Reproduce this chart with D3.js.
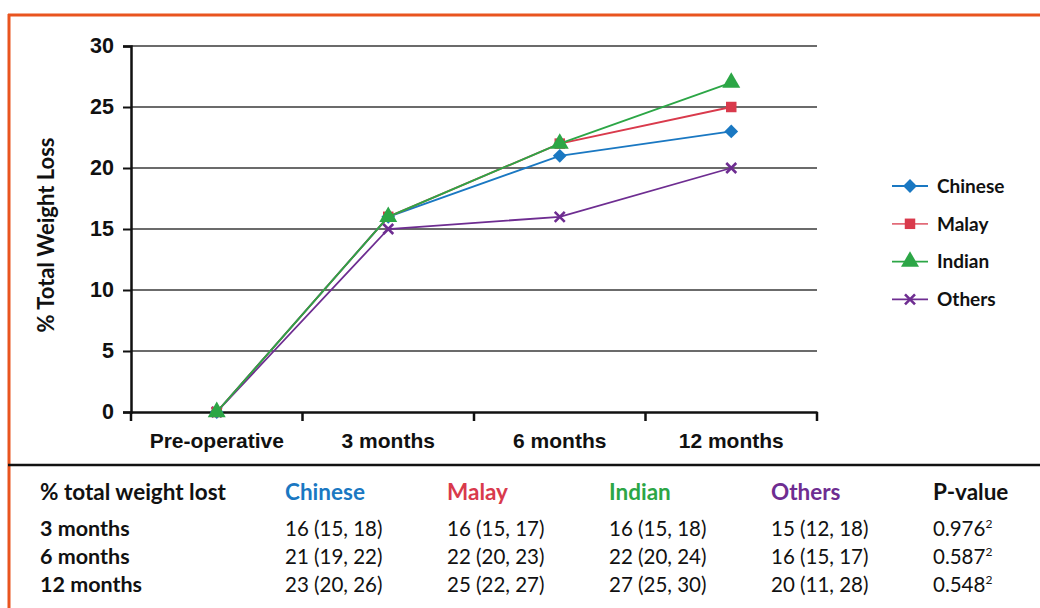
<!DOCTYPE html>
<html><head><meta charset="utf-8">
<script src="https://cdn.jsdelivr.net/npm/d3@7"></script>
<style>body{margin:0;background:#fff;}svg{display:block;font-family:Lato,"Open Sans",sans-serif;}</style>
</head><body><svg id="c" width="1040" height="608"></svg>
<script>
const categories = ["Pre-operative","3 months","6 months","12 months"];
const seriesNames = ["Chinese","Malay","Indian","Others"];
const chinese = [0,16,21,23];
const malay = [0,16,22,25];
const indian = [0,16,22,27];
const others = [0,15,16,20];
const yTicks = [0,5,10,15,20,25,30];
const tableHeader = ["% total weight lost","Chinese","Malay","Indian","Others","P-value"];
const tableRowLabels = ["3 months","6 months","12 months"];
const tableChinese = ["16 (15, 18)","21 (19, 22)","23 (20, 26)"];
const tableMalay = ["16 (15, 17)","22 (20, 23)","25 (22, 27)"];
const tableIndian = ["16 (15, 18)","22 (20, 24)","27 (25, 30)"];
const tableOthers = ["15 (12, 18)","16 (15, 17)","20 (11, 28)"];
const tablePValue = ["0.976","0.587","0.548"];
const pSup = ["2","2","2"];

const colors = {Chinese:"#1a78c2",Malay:"#d93a4c",Indian:"#2ca646",Others:"#6e2d91"};
const values = {Chinese:chinese,Malay:malay,Indian:indian,Others:others};
const symbols = {Chinese:d3.symbolSquare,Malay:d3.symbolSquare,Indian:d3.symbolTriangle,Others:d3.symbolCross};

const svg = d3.select("#c");
// frame
svg.append("line").attr("x1",8).attr("x2",1040).attr("y1",15).attr("y2",15).attr("stroke","#e9541f").attr("stroke-width",3);
svg.append("line").attr("x1",9).attr("x2",9).attr("y1",14).attr("y2",608).attr("stroke","#e9541f").attr("stroke-width",3);
svg.append("line").attr("x1",8).attr("x2",1040).attr("y1",465).attr("y2",465).attr("stroke","#111").attr("stroke-width",2.5);

const x = d3.scaleBand().domain(categories).range([131,817]);
const y = d3.scaleLinear().domain([0,30]).range([412,46]);

// gridlines
svg.append("g").selectAll("line").data(yTicks.filter(d=>d>0)).join("line")
  .attr("x1",131).attr("x2",817).attr("y1",d=>y(d)).attr("y2",d=>y(d))
  .attr("stroke","#3a3a3a").attr("stroke-width",1.6);

// y axis
const ya = svg.append("g").attr("transform","translate(131,0)")
  .call(d3.axisLeft(y).tickValues(yTicks).tickSize(8).tickPadding(9));
ya.select(".domain").attr("stroke","#111").attr("stroke-width",2.5);
ya.selectAll(".tick line").attr("stroke","#111").attr("stroke-width",2);
ya.selectAll("text").attr("font-size",21.5).attr("font-weight","bold").attr("fill","#111");

// x axis
const xa = svg.append("g").attr("transform","translate(0,412)")
  .call(d3.axisBottom(x).tickSize(0).tickPadding(21));
xa.select(".domain").attr("stroke","#111").attr("stroke-width",2.5);
xa.selectAll("text").attr("font-size",21).attr("font-weight","bold").attr("fill","#111");
const bounds = categories.map(c=>x(c)).concat([x.range()[1]]);
svg.append("g").selectAll("line").data(bounds).join("line")
  .attr("x1",d=>d).attr("x2",d=>d).attr("y1",412).attr("y2",421).attr("stroke","#111").attr("stroke-width",2.5);

svg.append("text").attr("transform","translate(54,235) rotate(-90)").attr("text-anchor","middle")
  .attr("font-size",22).attr("font-weight","bold").attr("fill","#111").text("% Total Weight Loss");

const cx = c=>x(c)+x.bandwidth()/2;
const line = d3.line().x((d,i)=>cx(categories[i])).y(d=>y(d));
const symSize = {Chinese:95,Malay:110,Indian:140,Others:80};
function drawSym(g,name,px,py){
  if(name==="Others"){
    const r=5;
    g.append("path").attr("d",`M${px-r},${py-r}L${px+r},${py+r}M${px-r},${py+r}L${px+r},${py-r}`)
      .attr("stroke",colors[name]).attr("stroke-width",2.6).attr("fill","none");
    return;
  }
  const s = d3.symbol().type(symbols[name]).size(symSize[name]);
  g.append("path").attr("d",s()).attr("transform",`translate(${px},${py})`+(name==="Chinese"?" rotate(45)":"")).attr("fill",colors[name]);
}
// draw order: Others, Chinese, Malay, Indian
["Others","Chinese","Malay","Indian"].forEach(name=>{
  const g = svg.append("g");
  g.append("path").datum(values[name]).attr("d",line).attr("fill","none").attr("stroke",colors[name]).attr("stroke-width",1.8);
  values[name].forEach((v,i)=>drawSym(g,name,cx(categories[i]),y(v)));
});

// legend
const lg = svg.append("g");
seriesNames.forEach((name,i)=>{
  const ly = 186 + i*37.8;
  lg.append("line").attr("x1",892).attr("x2",928).attr("y1",ly).attr("y2",ly).attr("stroke",colors[name]).attr("stroke-width",1.8).attr("opacity",name==="Malay"?0.75:1);
  drawSym(lg,name,910,ly);
  lg.append("text").attr("x",937).attr("y",ly).attr("dy","0.36em").attr("font-size",19).attr("font-weight","bold").attr("fill","#111").text(name);
});

// table
const colX = [40,285,447,609,771,933];
const headColors = ["#111",colors.Chinese,colors.Malay,colors.Indian,colors.Others,"#111"];
const tg = svg.append("g");
tableHeader.forEach((h,i)=>{
  tg.append("text").attr("x",colX[i]).attr("y",500).attr("font-size",22.5).attr("fill",headColors[i]).attr("font-weight","bold").text(h);
});
const cols = [tableChinese,tableMalay,tableIndian,tableOthers];
tableRowLabels.forEach((r,j)=>{
  const ry = 536 + j*28;
  tg.append("text").attr("x",colX[0]).attr("y",ry).attr("font-size",21.5).attr("font-weight","bold").attr("fill","#111").text(r);
  cols.forEach((c,k)=>{
    tg.append("text").attr("x",colX[k+1]).attr("y",ry).attr("font-size",20.5).attr("fill","#111").text(c[j]);
  });
  const t = tg.append("text").attr("x",colX[5]).attr("y",ry).attr("font-size",20.5).attr("fill","#111").text(tablePValue[j]);
  t.append("tspan").attr("font-size",12).attr("dy",-8).text(pSup[j]);
});
</script></body></html>
